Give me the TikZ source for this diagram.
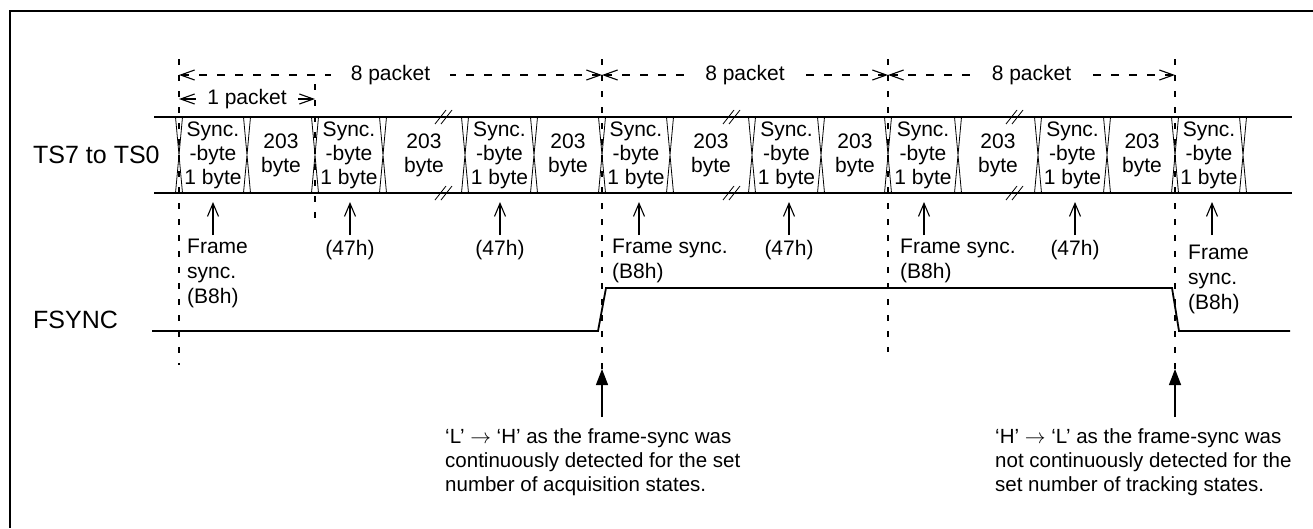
\documentclass[tikz,border=0pt]{standalone}
\usepackage{fontspec}
\setmainfont{Liberation Sans}
\usetikzlibrary{arrows.meta}
\newcommand\labfont{\fontsize{21}{24}\selectfont}
\newcommand\namefont{\fontsize{25}{28}\selectfont}
\newcommand\notefont{\fontsize{20.5}{24}\selectfont}
\tikzset{
  frameline/.style={line width=1.6pt},
  bus/.style={line width=2pt},
  xing/.style={line width=0.8pt},
  brk/.style={line width=0.8pt},
  guide/.style={line width=1.1pt, dash pattern=on 6pt off 10pt},
  dimdash/.style={line width=1.1pt, dash pattern=on 8pt off 10pt,
    {Straight Barb[length=14pt,width=10pt,line width=1.1pt]}-},
  dimsolid/.style={line width=1.1pt,
    {Straight Barb[length=14pt,width=10pt,line width=1.1pt]}-},
  dimlabel/.style={font=\labfont, fill=white, inner ysep=2pt},
  celltext/.style={font=\labfont, align=center, inner sep=0pt},
  pointer/.style={line width=1.1pt, -{Straight Barb[length=13pt,width=11pt,line width=1.1pt]}},
  marker/.style={line width=1.3pt, -{Triangle[length=16pt,width=12pt]}},
  lbl/.style={font=\labfont, inner sep=0pt},
  signame/.style={font=\namefont, inner sep=0pt, anchor=west},
  msrlbl/.style={font=\fontsize{21}{25}\selectfont, align=left, inner sep=0pt, anchor=north west},
  note/.style={font=\notefont, align=left, inner sep=0pt, anchor=north west},
  level/.style={line width=1.8pt, line join=miter},
}
\begin{document}
\begin{tikzpicture}[x=1pt, y=-1pt]
\useasboundingbox (0,0) rectangle (1313,528);

% outer frame
\draw[frameline] (1313,11) -- (10,11) -- (10,528);

% signal names
\node[signame] (ts) at (33,155) {TS7 to TS0};
\node[signame] (fs) at (33,320) {FSYNC};

% vertical guides
\coordinate (g1t) at (179,59);  \coordinate (g1b) at (179,365);
\coordinate (g2t) at (315,84);  \coordinate (g2b) at (315,222);
\coordinate (g3t) at (602,59);  \coordinate (g3b) at (602,369);
\coordinate (g4t) at (888,59);  \coordinate (g4b) at (888,352);
\coordinate (g5t) at (1175,59); \coordinate (g5b) at (1175,369);
\foreach \g in {g1,g2,g3,g4,g5}
  \draw[guide] (\g t) -- (\g b);

% packet dimensions
\node[dimlabel, inner xsep=20pt] (p1) at (390.5,75) {8 packet};
\node[dimlabel, inner xsep=20pt] (p2) at (745,75) {8 packet};
\node[dimlabel, inner xsep=20pt] (p3) at (1031.5,75) {8 packet};
\coordinate (d1) at (179,75);
\coordinate (d2) at (602,75);
\coordinate (d3) at (888,75);
\coordinate (d4) at (1175,75);
\draw[dimdash] (d1) -- (p1);
\draw[dimdash] (d2) -- (p1);
\draw[dimdash] (d2) -- (p2);
\draw[dimdash] (d3) -- (p2);
\draw[dimdash] (d3) -- (p3);
\draw[dimdash] (d4) -- (p3);

\node[dimlabel, inner xsep=11pt] (q1) at (247,99) {1 packet};
\coordinate (e1) at (179,99);
\coordinate (e2) at (315,99);
\draw[dimsolid] (e1) -- (q1);
\draw[dimsolid] (e2) -- (q1);

% data bus
\coordinate (bt0) at (154,117); \coordinate (bt1) at (1292,117);
\coordinate (bb0) at (154,193); \coordinate (bb1) at (1292,193);
\draw[bus] (bt0) -- (bt1);
\draw[bus] (bb0) -- (bb1);

\foreach \x in {179,247,315,383,465,534,602,670,752,821,888,958,1038,1107,1175,1243}
  \draw[xing] (\x-3.5,117) -- (\x+3.5,193) (\x+3.5,117) -- (\x-3.5,193);

\foreach \x in {443,731,1014}
  \foreach \y in {117,193}
    \draw[brk] (\x-8,\y+7) -- (\x+3,\y-7) (\x-2,\y+7) -- (\x+9,\y-7);

\foreach \x/\n in {213/s1,349/s2,499.5/s3,636/s4,786.5/s5,923/s6,1072.5/s7,1209/s8}
  \node[celltext] (\n) at (\x,155) {Sync.\\-byte\\1 byte};
\foreach \x/\n in {281/b1,424/b2,568/b3,711/b4,855/b5,998/b6,1142/b7}
  \node[celltext] (\n) at (\x,155) {203\\byte};

% pointers to the sync bytes
\foreach \x/\n in {213/a1,350/a2,500/a3,639/a4,789/a5,924/a6,1075/a7,1212/a8}{
  \coordinate (\n b) at (\x,235);
  \coordinate (\n t) at (\x,202);
  \draw[pointer] (\n b) -- (\n t);
}

% byte values
\node[msrlbl] (f1) at (187,239) {Frame\\sync.\\(B8h)};
\node[lbl] (h1) at (350,250) {(47h)};
\node[lbl] (h2) at (500,250) {(47h)};
\node[msrlbl] (f2) at (612,239) {Frame sync.\\(B8h)};
\node[lbl] (h3) at (789,250) {(47h)};
\node[msrlbl] (f3) at (900,239) {Frame sync.\\(B8h)};
\node[lbl] (h4) at (1075,250) {(47h)};
\node[msrlbl] (f4) at (1188,245) {Frame\\sync.\\(B8h)};

% FSYNC output
\coordinate (l0) at (152,331);
\coordinate (l1) at (598,331);
\coordinate (l2) at (606,288);
\coordinate (l3) at (1172,288);
\coordinate (l4) at (1179,331);
\coordinate (l5) at (1290,331);
\draw[level] (l0) -- (l1) -- (l2) -- (l3) -- (l4) -- (l5);

% transition markers and notes
\coordinate (m1b) at (602,417); \coordinate (m1t) at (602,369);
\coordinate (m2b) at (1175,417); \coordinate (m2t) at (1175,369);
\draw[marker] (m1b) -- (m1t);
\draw[marker] (m2b) -- (m2t);

\node[note] (n1) at (445,428) {‘L’ $\rightarrow$ ‘H’ as the frame-sync was\\continuously detected for the set\\number of acquisition states.};
\node[note] (n2) at (995,428) {‘H’ $\rightarrow$ ‘L’ as the frame-sync was\\not continuously detected for the\\set number of tracking states.};
\end{tikzpicture}
\end{document}
